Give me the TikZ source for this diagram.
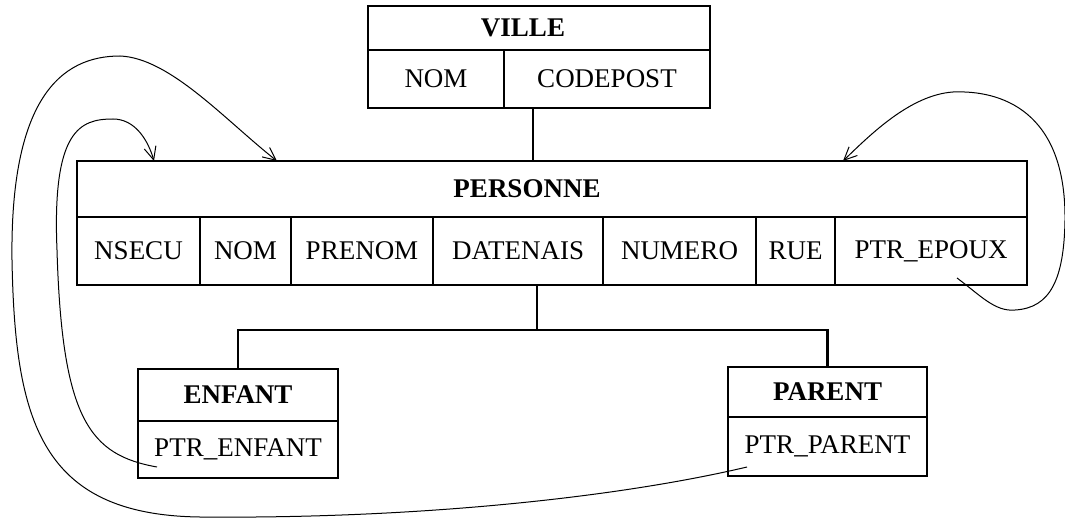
\documentclass[tikz,border=0pt]{standalone}
\usepackage{fontspec}
\setmainfont{Liberation Serif}
\usetikzlibrary{arrows.meta,positioning,calc}

\tikzset{
  title/.style={font=\fontsize{13.5}{16}\selectfont\bfseries},
  head/.style={draw, line width=0.6pt, inner sep=0pt, outer sep=0pt},
  cell/.style={draw, line width=0.6pt, inner sep=0pt, outer sep=0pt, font=\fontsize{13.5}{16}\selectfont},
  link/.style={line width=1.1pt},
  ptr/.style={line width=0.5pt, -{Straight Barb[length=6.5pt,width=6pt]}}
}

\begin{document}
\begin{tikzpicture}[x=0.5pt,y=-0.5pt]
	\useasboundingbox (0,0) rectangle (1065,519);
	% VILLE
	\node[head, minimum width=171pt, minimum height=22pt, label={[title,xshift=-8pt]center:VILLE}] (ville) at (539,28) {};
	\node[cell, minimum width=68pt, minimum height=29pt, anchor=north west] (vnom) at (ville.south west) {NOM};
	\node[cell, minimum width=103pt, minimum height=29pt, right=0pt of vnom] (vcode) {CODEPOST};
	% PERSONNE
	\node[head, minimum width=475pt, minimum height=28pt, label={[title,xshift=-12.5pt]center:PERSONNE}] (pers) at (552,189) {};
	\node[cell, minimum width=61.5pt, minimum height=34pt, anchor=north west] (pnsecu) at (pers.south west) {NSECU};
	\node[cell, minimum width=45.5pt, minimum height=34pt, right=0pt of pnsecu] (pnom) {NOM};
	\node[cell, minimum width=71pt, minimum height=34pt, right=0pt of pnom] (pprenom) {PRENOM};
	\node[cell, minimum width=85pt, minimum height=34pt, right=0pt of pprenom] (pdate) {DATENAIS};
	\node[cell, minimum width=76.5pt, minimum height=34pt, right=0pt of pdate] (pnum) {NUMERO};
	\node[cell, minimum width=39.5pt, minimum height=34pt, right=0pt of pnum] (prue) {RUE};
	\node[cell, minimum width=96pt, minimum height=34pt, right=0pt of prue] (pepoux) {PTR\_EPOUX};
	% ENFANT and PARENT
	\node[head, minimum width=100pt, minimum height=26pt, label={[title]center:ENFANT}] (enf) at (238,395) {};
	\node[cell, minimum width=100pt, minimum height=28.5pt, anchor=north west] (fenf) at (enf.south west) {PTR\_ENFANT};
	\node[head, minimum width=99.5pt, minimum height=25pt, label={[title]center:PARENT}] (par) at (827.5,392) {};
	\node[cell, minimum width=99.5pt, minimum height=29.5pt, anchor=north west] (fpar) at (par.south west) {PTR\_PARENT};

	% links
	\coordinate (vlink) at ([xshift=14.5pt]vcode.south west);
	\draw[link] (vlink) -- (vlink |- pers.north);
	\coordinate (pbus) at ([xshift=52pt]pdate.south west);
	\coordinate (fork) at ($(pbus)+(0,45)$);
	\draw[link] (pbus) -- (fork);
	\draw[link] (enf.north) |- (fork) -| (par.north);

	% pointers
	\coordinate (penf) at ($(fenf.south west)+(19,-11)$);
	\coordinate (tenf) at ($(pers.north west)+(77,0)$);
	\draw[ptr] (penf) .. controls (90,455) and (62,420) .. (57,250) .. controls (52,130) and (80,119) .. (113,119) .. controls (135,119) and (148,140) .. (tenf);
	\coordinate (ppar) at ($(fpar.south west)+(19,-9)$);
	\coordinate (tpar) at ($(pers.north west)+(200,0)$);
	\draw[ptr] (ppar) .. controls (620,497) and (420,519) .. (200,517) .. controls (40,515) and (15,420) .. (12,260) .. controls (10,100) and (60,56) .. (120,56) .. controls (170,58) and (225,120) .. (tpar);
	\coordinate (pep) at ($(pepoux.south west)+(122,-7)$);
	\coordinate (tep) at ($(pers.north west)+(766,0)$);
	\draw[ptr] (pep) .. controls (980,295) and (995,312) .. (1015,310) .. controls (1050,308) and (1064,280) .. (1065,220) .. controls (1066,110) and (1000,90) .. (953,92) .. controls (910,95) and (870,135) .. (tep);
\end{tikzpicture}
\end{document}
